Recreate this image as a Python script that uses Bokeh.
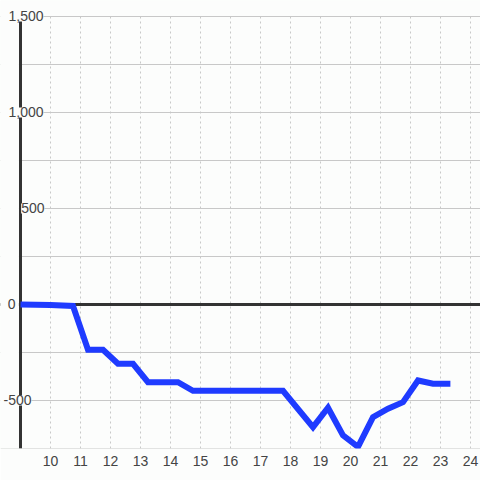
from bokeh.plotting import figure
from bokeh.models import Range1d, SingleIntervalTicker, FixedTicker, Span, Label, BoxAnnotation
from bokeh.embed import file_html
from bokeh.resources import INLINE

# ---- data ----
hours = [9, 10, 10.75, 11.25, 11.75, 12.25, 12.75, 13.25, 14.25, 14.75, 17.75,
         18.75, 19.25, 19.75, 20.25, 20.75, 21.25, 21.75, 22.25, 22.75, 23.33]
values = [0, -3, -8, -236, -236, -309, -309, -405, -405, -450, -450,
          -639, -538, -682, -742, -587, -543, -509, -396, -413, -413]
x_ticks = list(range(10, 25))
y_tick_values = [1500, 1000, 500, 0, -500]
y_tick_labels = ["1,500", "1,000", "500", "0", "-500"]

# ---- layout / style ----
BG = "#fcfdfc"
FONT = "Liberation Sans"
TEXT = "#444444"
W, H = 480, 480
FRAME_H = 448
PX_X = 30.0                 # pixels per hour
PX_Y = 96.0 / 500.0         # pixels per unit
AX_X = 9                    # where the value axis sits
AX_Y0, AX_Y1 = -750, 1500   # extent of the value axis
X0 = AX_X - 20 / PX_X
X1 = X0 + W / PX_X
Y0 = AX_Y0 - 0.5
Y1 = AX_Y1 + 16 / PX_Y
label_right_px = {"1,500": 23, "1,000": 23, "500": 24, "0": -5, "-500": 11}

p = figure(width=W, height=H, output_backend="svg", toolbar_location=None,
           x_range=Range1d(X0, X1), y_range=Range1d(Y0, Y1),
           min_border_left=0, min_border_right=0, min_border_top=0,
           min_border_bottom=H - FRAME_H)
p.background_fill_color = BG
p.border_fill_color = BG
p.outline_line_color = None

# x axis: labels only
p.xaxis.ticker = FixedTicker(ticks=x_ticks)
p.xaxis.major_tick_line_color = None
p.xaxis.minor_tick_line_color = None
p.xaxis.axis_line_color = None
p.xaxis.major_label_text_font = FONT
p.xaxis.major_label_text_font_size = "14px"
p.xaxis.major_label_text_color = TEXT
p.xaxis.major_label_standoff = 1
p.yaxis.visible = False

# grids
p.ygrid.ticker = SingleIntervalTicker(interval=250)
p.ygrid.grid_line_color = "#c8c8c8"
p.ygrid.grid_line_width = 1
p.xgrid.ticker = FixedTicker(ticks=x_ticks)
p.xgrid.grid_line_color = "#c8c8c8"
p.xgrid.grid_line_width = 1
p.xgrid.grid_line_dash = "2 3"

# zero line (under the data line)
p.add_layout(Span(location=0, dimension="width", line_color="#333333",
                  line_width=3, level="underlay"))

# value-axis spine
p.segment(x0=[AX_X], y0=[AX_Y0], x1=[AX_X], y1=[AX_Y1],
          line_color="#333333", line_width=3)

# data line
p.line(hours, values, line_color="#1f3bff", line_width=6, line_join="miter")

# mask the strips outside the drawing area (left of spine, above top)
p.add_layout(BoxAnnotation(right=AX_X - 1.6 / PX_X, fill_color=BG, fill_alpha=1,
                           line_color=None, level="annotation"))
p.add_layout(BoxAnnotation(bottom=AX_Y1 + 0.6 / PX_Y, fill_color=BG, fill_alpha=1,
                           line_color=None, level="annotation"))

# y tick labels inside the plot, with background
for v, t in zip(y_tick_values, y_tick_labels):
    p.add_layout(Label(x=AX_X, y=v, x_offset=label_right_px[t], text=t,
                       text_align="right", text_baseline="middle",
                       text_font=FONT, text_font_size="14px", text_color=TEXT,
                       background_fill_color=BG, level="overlay"))

open("out.html", "w").write(file_html(p, INLINE))
